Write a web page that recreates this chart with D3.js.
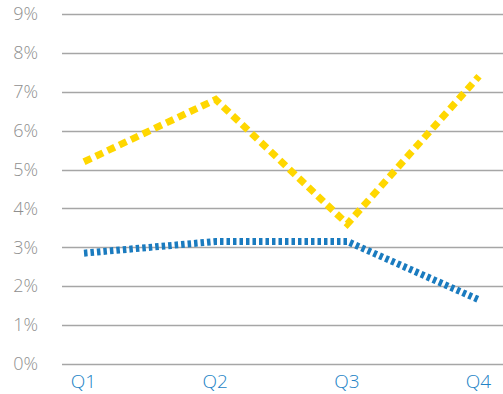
<!DOCTYPE html>
<html>
<head>
<meta charset="utf-8">
<script src="https://cdn.jsdelivr.net/npm/d3@7"></script>
<style>
  html, body { margin: 0; padding: 0; background: #fff; }
  svg { display: block; }
</style>
</head>
<body>
<div id="chart"></div>
<script>
// Quarterly rates, in percent
const quarters = ["Q1", "Q2", "Q3", "Q4"];
const yellowSeries = [5.2, 6.8, 3.6, 7.4];
const blueSeries = [2.85, 3.15, 3.15, 1.65];
const yTicks = [0, 1, 2, 3, 4, 5, 6, 7, 8, 9];

const W = 503, H = 394;
const svg = d3.select("#chart").append("svg")
  .attr("width", W).attr("height", H);

const x = d3.scalePoint().domain(quarters).range([84, 479]);
const y = d3.scaleLinear().domain([0, 9]).range([364, 14]);

// Horizontal gridlines
svg.append("g")
  .selectAll("line")
  .data(yTicks)
  .join("line")
  .attr("x1", 62).attr("x2", W)
  .attr("y1", d => Math.round(y(d)) + 0.5)
  .attr("y2", d => Math.round(y(d)) + 0.5)
  .attr("stroke", "#a6a6a6")
  .attr("stroke-width", 1.5);

// Y axis labels
const yAxis = d3.axisLeft(y).tickValues(yTicks).tickFormat(d => d + "%").tickSize(0).tickPadding(0);
const gy = svg.append("g").attr("transform", "translate(38,0)").call(yAxis);
gy.select(".domain").remove();
gy.selectAll("text")
  .attr("fill", "#8f8f8f")
  .style("font-family", "'Open Sans', 'Noto Sans', sans-serif")
  .style("font-weight", 300)
  .style("font-size", "18px");

// X axis labels
const xAxis = d3.axisBottom(x).tickSize(0).tickPadding(0);
const gx = svg.append("g").attr("transform", "translate(-1,374)").call(xAxis);
gx.select(".domain").remove();
gx.selectAll("text")
  .attr("fill", "#2383c6")
  .style("font-family", "'Open Sans', 'Noto Sans', sans-serif")
  .style("font-weight", 300)
  .style("font-size", "19px");

const line = d3.line()
  .x((d, i) => x(quarters[i]))
  .y(d => y(d));

svg.append("path")
  .datum(yellowSeries)
  .attr("d", line)
  .attr("fill", "none")
  .attr("stroke", "#ffd700")
  .attr("stroke-width", 7)
  .attr("stroke-dasharray", "8,5");

svg.append("path")
  .datum(blueSeries)
  .attr("d", line)
  .attr("fill", "none")
  .attr("stroke", "#1a7bbf")
  .attr("stroke-width", 7)
  .attr("stroke-dasharray", "3.5,3");
</script>
</body>
</html>
